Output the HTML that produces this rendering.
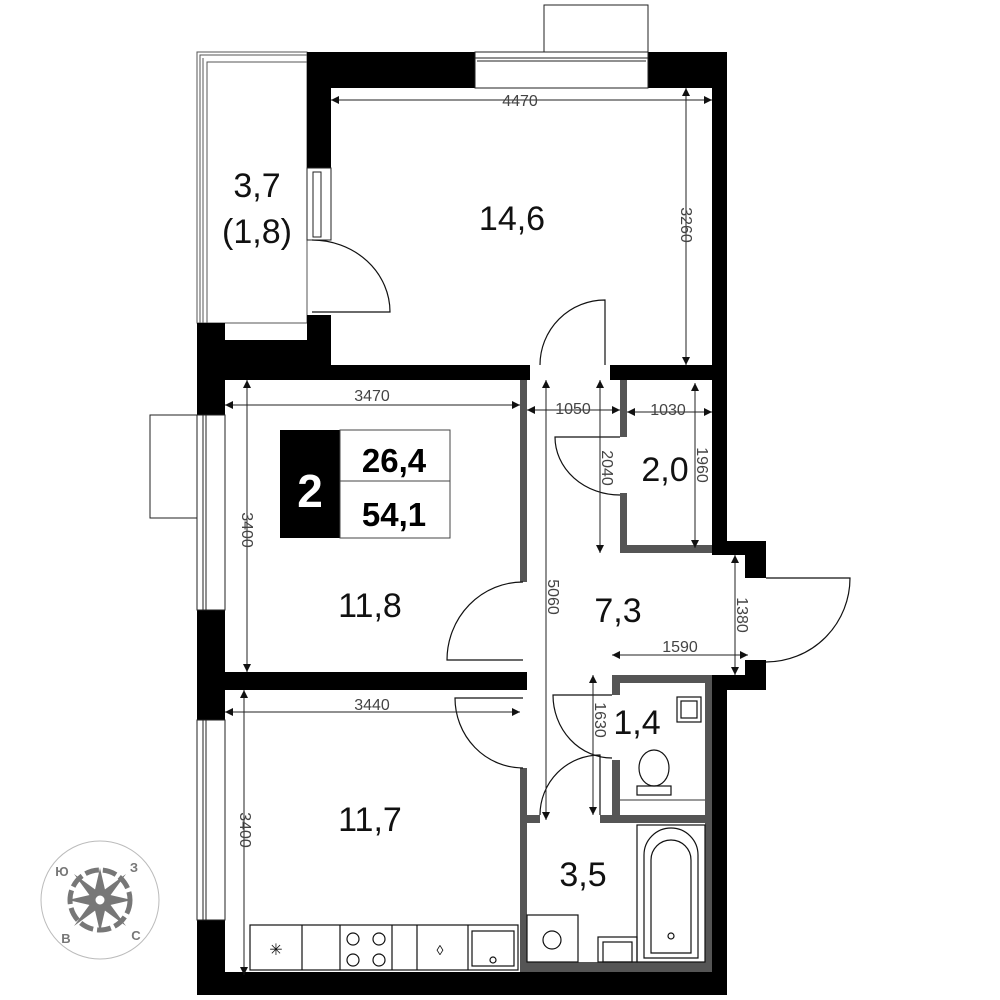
<!DOCTYPE html>
<html><head><meta charset="utf-8"><style>
html,body{margin:0;padding:0;background:#fff;}
svg{display:block;}
text{font-family:"Liberation Sans",sans-serif;}
.d{fill:#444;font-size:16px;}
.r{fill:#111;font-size:34px;}
</style></head><body>
<svg width="1000" height="1000" viewBox="0 0 1000 1000" xmlns="http://www.w3.org/2000/svg">
<defs>
<marker id="a" viewBox="0 0 10 10" refX="10" refY="5" markerWidth="14" markerHeight="8" orient="auto-start-reverse" markerUnits="userSpaceOnUse"><path d="M0,0 L10,5 L0,10 z" fill="#111"/></marker>
</defs>
<!-- balcony -->
<rect x="197" y="52" width="110" height="271" fill="none" stroke="#555" stroke-width="1"/>
<rect x="200" y="55" width="107" height="268" fill="none" stroke="#555" stroke-width="1"/>
<rect x="207" y="62" width="100" height="261" fill="none" stroke="#555" stroke-width="1"/>
<line x1="203" y1="58" x2="203" y2="323" stroke="#555"/>
<!-- top window box -->
<rect x="544" y="5" width="104" height="47" fill="#fff" stroke="#222"/>
<!-- black walls -->
<g fill="#000">
<rect x="307" y="52" width="168" height="36"/>
<rect x="648" y="52" width="79" height="36"/>
<rect x="712" y="52" width="15" height="503"/>
<rect x="307" y="88" width="24" height="80"/>
<rect x="307" y="315" width="24" height="28"/>
<rect x="197" y="323" width="28" height="92"/>
<rect x="225" y="340" width="106" height="40"/>
<rect x="331" y="365" width="199" height="15"/>
<rect x="610" y="365" width="117" height="15"/>
<rect x="727" y="541" width="39" height="14"/>
<rect x="745" y="555" width="21" height="23"/>
<rect x="727" y="675" width="39" height="15"/>
<rect x="745" y="660" width="21" height="15"/>
<rect x="712" y="675" width="15" height="320"/>
<rect x="197" y="610" width="28" height="110"/>
<rect x="225" y="672" width="302" height="18"/>
<rect x="197" y="920" width="28" height="75"/>
<rect x="197" y="972" width="530" height="23"/>
</g>
<!-- top window -->
<rect x="475" y="52" width="173" height="36" fill="#fff" stroke="#222"/>
<line x1="475" y1="58" x2="648" y2="58" stroke="#222"/>
<line x1="477" y1="61" x2="646" y2="61" stroke="#222"/>
<!-- left window 14.6 -->
<rect x="307" y="168" width="24" height="72" fill="#fff" stroke="#222"/>
<rect x="313" y="172" width="8" height="65" fill="#fff" stroke="#222"/>
<!-- left windows -->
<rect x="150" y="415" width="47" height="103" fill="#fff" stroke="#222"/>
<rect x="197" y="415" width="28" height="195" fill="#fff" stroke="#222"/>
<line x1="203" y1="415" x2="203" y2="610" stroke="#222"/><line x1="206" y1="415" x2="206" y2="610" stroke="#222"/>
<rect x="197" y="720" width="28" height="200" fill="#fff" stroke="#222"/>
<line x1="203" y1="720" x2="203" y2="920" stroke="#222"/><line x1="206" y1="720" x2="206" y2="920" stroke="#222"/>
<!-- gray partitions -->
<g fill="#555">
<rect x="520" y="380" width="7" height="202"/>
<rect x="520" y="768" width="7" height="204"/>
<rect x="620" y="380" width="7" height="57"/>
<rect x="620" y="493" width="7" height="60"/>
<rect x="620" y="545" width="92" height="8"/>
<rect x="612" y="675" width="100" height="8"/>
<rect x="612" y="675" width="8" height="20"/>
<rect x="612" y="760" width="8" height="58"/>
<rect x="705" y="683" width="7" height="289"/>
<rect x="527" y="815" width="13" height="8"/>
<rect x="600" y="815" width="112" height="8"/>
<rect x="527" y="962" width="185" height="10"/>
</g>
<line x1="620" y1="800" x2="705" y2="800" stroke="#333"/>
<!-- doors -->
<g fill="none" stroke="#111" stroke-width="1.2">
<path d="M312 240 A78 72 0 0 1 390 312 L312 312"/>
<path d="M540 365 A65 65 0 0 1 605 300 L605 365"/>
<path d="M523 582 A76 78 0 0 0 447 660 L523 660"/>
<path d="M523 768 A68 70 0 0 1 455 698 L523 698"/>
<path d="M620 495 A65 58 0 0 1 555 437 L620 437"/>
<path d="M766 662 A84 84 0 0 0 850 578 L766 578"/>
<path d="M612 758 A59 63 0 0 1 553 695 L612 695"/>
<path d="M540 815 A60 60 0 0 1 600 755 L600 815"/>
</g>
<!-- fixtures -->
<g fill="none" stroke="#111" stroke-width="1.2">
<rect x="250" y="925" width="268" height="45"/>
<line x1="302" y1="925" x2="302" y2="970"/><line x1="340" y1="925" x2="340" y2="970"/>
<line x1="392" y1="925" x2="392" y2="970"/><line x1="417" y1="925" x2="417" y2="970"/>
<line x1="468" y1="925" x2="468" y2="970"/>
<circle cx="353" cy="939" r="6"/><circle cx="379" cy="939" r="6"/><circle cx="353" cy="960" r="6"/><circle cx="379" cy="960" r="6"/>
<rect x="472" y="931" width="42" height="35"/>
<circle cx="493" cy="960" r="3"/>
<rect x="527" y="915" width="51" height="47"/>
<circle cx="552" cy="940" r="9"/>
<rect x="598" y="937" width="39" height="25"/>
<rect x="603" y="942" width="29" height="20"/>
<rect x="637" y="825" width="68" height="137"/>
<path d="M644 958 V855 A27 27 0 0 1 698 855 V958 Z"/>
<path d="M651 953 V860 A20 20 0 0 1 691 860 V953 Z"/>
<circle cx="671" cy="936" r="3"/>
<rect x="677" y="697" width="24" height="25"/>
<rect x="681" y="701" width="16" height="17"/>
<ellipse cx="654" cy="768" rx="15" ry="18"/>
<rect x="637" y="786" width="34" height="9"/>
</g>
<text x="440" y="955" font-size="14" fill="#111" text-anchor="middle">◊</text>
<text x="276" y="955" font-size="16" fill="#111" text-anchor="middle">✳</text>
<!-- dimension lines -->
<g stroke="#222" stroke-width="1" marker-start="url(#a)" marker-end="url(#a)">
<line x1="331" y1="100" x2="712" y2="100"/>
<line x1="686" y1="88" x2="686" y2="365"/>
<line x1="225" y1="405" x2="520" y2="405"/>
<line x1="247" y1="380" x2="247" y2="672"/>
<line x1="527" y1="410" x2="620" y2="410"/>
<line x1="627" y1="412" x2="712" y2="412"/>
<line x1="600" y1="380" x2="600" y2="553"/>
<line x1="695" y1="383" x2="695" y2="548"/>
<line x1="546" y1="380" x2="546" y2="820"/>
<line x1="735" y1="555" x2="735" y2="675"/>
<line x1="612" y1="655" x2="748" y2="655"/>
<line x1="225" y1="712" x2="520" y2="712"/>
<line x1="244" y1="690" x2="244" y2="975"/>
<line x1="593" y1="675" x2="593" y2="815"/>
</g>
<g class="d">
<text x="520" y="106" text-anchor="middle">4470</text>
<text x="372" y="401" text-anchor="middle">3470</text>
<text x="573" y="414" text-anchor="middle">1050</text>
<text x="668" y="415" text-anchor="middle">1030</text>
<text x="680" y="652" text-anchor="middle">1590</text>
<text x="372" y="710" text-anchor="middle">3440</text>
<text transform="translate(681,225) rotate(90)" text-anchor="middle">3260</text>
<text transform="translate(242,530) rotate(90)" text-anchor="middle">3400</text>
<text transform="translate(240,830) rotate(90)" text-anchor="middle">3400</text>
<text transform="translate(602,468) rotate(90)" text-anchor="middle">2040</text>
<text transform="translate(697,465) rotate(90)" text-anchor="middle">1960</text>
<text transform="translate(548,597) rotate(90)" text-anchor="middle">5060</text>
<text transform="translate(737,615) rotate(90)" text-anchor="middle">1380</text>
<text transform="translate(595,720) rotate(90)" text-anchor="middle">1630</text>
</g>
<g class="r" text-anchor="middle">
<text x="512" y="230">14,6</text>
<text x="257" y="197">3,7</text>
<text x="257" y="243">(1,8)</text>
<text x="370" y="617">11,8</text>
<text x="370" y="831">11,7</text>
<text x="618" y="622">7,3</text>
<text x="665" y="481">2,0</text>
<text x="637" y="734">1,4</text>
<text x="583" y="886">3,5</text>
</g>
<!-- badge -->
<rect x="280" y="430" width="60" height="108" fill="#000"/>
<rect x="340" y="430" width="110" height="108" fill="#fff" stroke="#444"/>
<line x1="340" y1="481" x2="450" y2="481" stroke="#444"/>
<text x="310" y="507" font-size="46" font-weight="bold" fill="#fff" text-anchor="middle">2</text>
<text x="394" y="472" font-size="33" font-weight="bold" fill="#000" text-anchor="middle">26,4</text>
<text x="394" y="526" font-size="33" font-weight="bold" fill="#000" text-anchor="middle">54,1</text>
<!-- compass -->
<g>
<circle cx="100" cy="900" r="59" fill="none" stroke="#bbb" stroke-width="1"/>
<circle cx="100" cy="900" r="30" fill="none" stroke="#777" stroke-width="5" stroke-dasharray="14 4"/>
<g fill="#777">
<path d="M100 868 L106 894 L132 900 L106 906 L100 932 L94 906 L68 900 L94 894 Z"/>
<path d="M74 874 L104 896 L126 926 L96 904 Z"/>
<path d="M126 874 L104 904 L74 926 L96 896 Z"/>
</g>
<circle cx="100" cy="900" r="6" fill="#fff" stroke="#777" stroke-width="3"/>
<g fill="#777" font-size="13" font-weight="bold" text-anchor="middle">
<text x="62" y="876">Ю</text><text x="134" y="872">З</text>
<text x="66" y="943">В</text><text x="136" y="940">С</text>
</g>
</g>
</svg>
</body></html>
